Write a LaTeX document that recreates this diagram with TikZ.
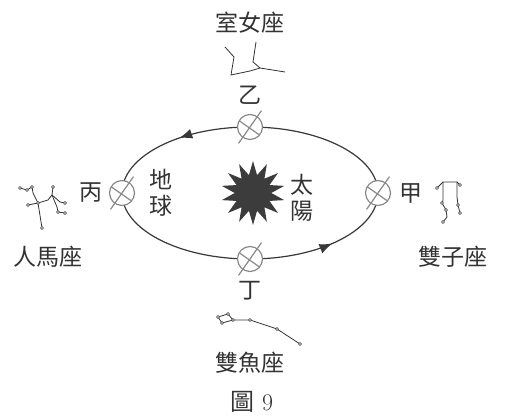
\documentclass[tikz,border=0pt]{standalone}
\usepackage{fontspec}
\newfontfamily\cjk{Noto Sans CJK TC}
\usetikzlibrary{shapes.geometric, arrows.meta, positioning, calc, decorations.markings}
\definecolor{InkGrey}{HTML}{333333}
\definecolor{OrbitGrey}{HTML}{383838}
\definecolor{EarthGrey}{HTML}{8A8A8A}
\definecolor{SunGrey}{HTML}{3C3C3C}

\begin{document}
\begin{tikzpicture}[x=1pt, y=1pt, >=Latex, every node/.style={text=InkGrey}]
    \tikzstyle{cjktext} = [font=\cjk\fontsize{23}{26}\selectfont, inner sep=0pt, align=center]
    \tikzstyle{earth} = [circle, draw=EarthGrey, fill=white, line width=1.2pt, minimum size=25pt, inner sep=0pt]
    \tikzstyle{axisline} = [draw=EarthGrey, line width=1.2pt]
    \tikzstyle{starline} = [draw=InkGrey, line width=0.8pt]
    \tikzstyle{stardot} = [draw=InkGrey, fill=white, line width=0.6pt]

    \useasboundingbox (0,0) rectangle (505,419);

    % orbit with the two direction arrows
    \draw[OrbitGrey, line width=1.2pt, postaction={decorate},
          decoration={markings,
            mark=at position 0.365 with {\arrow{Latex[length=13pt,width=10pt]}},
            mark=at position 0.885 with {\arrow{Latex[length=13pt,width=10pt]}}}]
        (250,226) ellipse [x radius=128, y radius=66];

    % sun
    \node [star, star points=14, star point ratio=1.75, minimum size=64pt, inner sep=0pt, fill=SunGrey] (sun) at (253,226) {};
    \node [cjktext] (sunlabel) at (302,221) {太\\陽};

    % earth at four positions
    \node [earth] (jia) at (378,226) {};
    \node [earth] (yi) at (250,292) {};
    \node [earth] (bing) at (122,226) {};
    \node [earth] (ding) at (250,160) {};
    \foreach \e in {jia,yi,bing,ding} {
        \draw[axisline] ($(\e)+(235:20)$) -- ($(\e)+(55:20)$);
        \draw[axisline] ($(\e)+(150:12.5)$) -- ($(\e)+(-40:12.5)$);
    }

    \node [cjktext, right=8pt of jia] (jialabel) {甲};
    \node [cjktext, above=9pt of yi] (yilabel) {乙};
    \node [cjktext, left=6pt of bing] (binglabel) {丙};
    \node [cjktext, below=9pt of ding] (dinglabel) {丁};
    \node [cjktext, right=14pt of bing] (earthlabel) {地\\球};

    % constellations
    \node [cjktext] (virgo) at (250,396) {室女座};
    \draw[starline] (225,372) -- (234,362) -- (231,344) -- (250,348) -- (260,351) -- (285,347);
    \draw[starline] (256,377) -- (253,357) -- (260,351);

    \node [cjktext] (sagittarius) at (48,162) {人馬座};
    \draw[starline] (20,231) -- (27,229) -- (32,232) -- (33,226) -- (38,216) -- (42,191);
    \draw[starline] (28,214) -- (38,216) -- (48,219) -- (52,224) -- (53,232);
    \draw[starline] (52,224) -- (60,217) -- (65,216);
    \draw[starline] (52,224) -- (57,212) -- (58,207) -- (65,206);
    \foreach \p in {(20,231),(27,229),(32,232),(42,191),(28,214),(38,216),(53,232),(65,216),(58,207),(65,206)}
        \draw[stardot] \p circle (1.5);

    \node [cjktext] (gemini) at (453,162) {雙子座};
    \draw[starline] (437,231) -- (443,237) -- (457,237) -- (460,234);
    \draw[starline] (443,237) -- (443,219) -- (442,216) -- (446,209) -- (447,202) -- (443,197);
    \draw[starline] (457,237) -- (457,222) -- (458,214) -- (460,206);
    \foreach \p in {(437,231),(460,234),(442,216),(446,209),(443,197),(458,214),(460,206)}
        \draw[stardot] \p circle (1.5);

    \node [cjktext] (pisces) at (250,56) {雙魚座};
    \draw[starline] (218,102) -- (228,105) -- (233,99) -- (222,96) -- cycle;
    \draw[starline] (233,99) -- (250,99) -- (277,90) -- (300,75);
    \foreach \p in {(218,102),(228,105),(233,99),(222,96),(250,99),(277,90),(300,75)}
        \draw[stardot] \p circle (1.5);

    % caption
    \node [font=\fontsize{24}{26}\selectfont, inner sep=0pt] (caption) at (252,17) {{\cjk 圖} 9};
\end{tikzpicture}
\end{document}
